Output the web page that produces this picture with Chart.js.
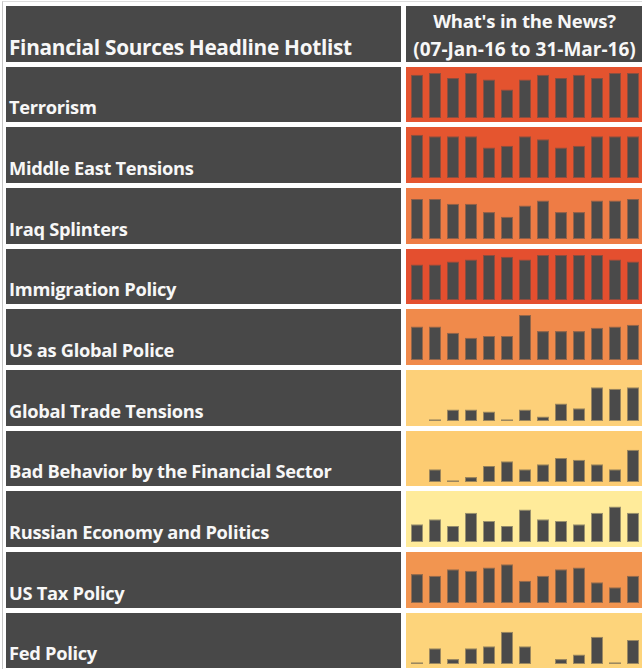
<!DOCTYPE html>
<html>
<head>
<meta charset="utf-8">
<script src="https://cdn.jsdelivr.net/npm/chart.js@4.4.1/dist/chart.umd.min.js"></script>
<style>
  html, body { margin: 0; padding: 0; background: #ffffff; }
  body { width: 642px; height: 669px; overflow: hidden; position: relative; font-family: 'Open Sans', sans-serif; font-weight: bold; }
  .frame { position: absolute; left: 2px; top: 1px; width: 700px; height: 700px; border-left: 1px solid #c6c6c6; border-top: 1px solid #dcdcdc; }
  .cell { position: absolute; background: #484848; color: #f7f7f7; overflow: hidden; white-space: nowrap; }
  .label { font-size: 18.3px; line-height: 20px; padding-left: 3px; box-sizing: border-box; display: flex; align-items: flex-end; padding-bottom: 5px; letter-spacing: -0.3px; }
  .title { font-size: 20.8px; }
  .hdr { position: absolute; left: 0; width: 100%; text-align: center; font-size: 18.5px; line-height: 18px; letter-spacing: -0.2px; }
  canvas { position: absolute; left: 0; top: 0; }
</style>
</head>
<body>
<div class="frame"></div>
<div class="cell label title" style="left:6px;top:6px;width:395px;height:56px;">Financial Sources Headline Hotlist</div>
<div class="cell" style="left:406px;top:6px;width:237px;height:56px;">
  <div class="hdr" style="top:6px;">What's in the News?</div>
  <div class="hdr" style="top:34px;font-size:19px;letter-spacing:0;">(07-Jan-16 to 31-Mar-16)</div>
</div>
<div id="rows"></div>
<script>
// week starting dates
const weeks = ['07-Jan', '14-Jan', '21-Jan', '28-Jan', '04-Feb', '11-Feb', '18-Feb', '25-Feb', '03-Mar', '10-Mar', '17-Mar', '24-Mar', '31-Mar'];

const topics = ['Terrorism', 'Middle East Tensions', 'Iraq Splinters', 'Immigration Policy', 'US as Global Police',
    'Global Trade Tensions', 'Bad Behavior by the Financial Sector', 'Russian Economy and Politics', 'US Tax Policy', 'Fed Policy'];

// headline volume per week (relative)
const terrorism    = [132, 137, 122, 137, 117, 87, 117, 132, 122, 132, 122, 137, 137];
const middleEast   = [132, 127, 127, 127, 93, 98, 127, 118, 93, 98, 127, 127, 127];
const iraq         = [122, 122, 107, 107, 82, 68, 102, 117, 82, 82, 117, 117, 122];
const immigration  = [108, 108, 117, 123, 137, 132, 123, 137, 137, 137, 137, 123, 117];
const globalPolice = [102, 102, 83, 68, 73, 73, 137, 88, 88, 88, 98, 102, 107];
const trade        = [0, 5, 35, 35, 29, 5, 35, 14, 53, 39, 103, 98, 103];
const badBehavior  = [0, 39, 5, 15, 49, 63, 39, 54, 73, 68, 54, 39, 98];
const russia       = [54, 69, 49, 89, 64, 49, 99, 69, 64, 54, 89, 108, 89];
const taxPolicy    = [88, 83, 103, 98, 108, 118, 68, 83, 103, 108, 63, 48, 83];
const fedPolicy    = [5, 48, 15, 48, 54, 98, 54, 0, 15, 29, 83, 5, 73];

const series = [terrorism, middleEast, iraq, immigration, globalPolice, trade, badBehavior, russia, taxPolicy, fedPolicy];

// heat colour of each row
const heatColors = ['#e4532f', '#e5552f', '#ee7c45', '#e44f2f', '#f08a4b', '#fdd079', '#fdcc72', '#ffeb9a', '#f29550', '#fdd47b'];

const barColor = '#4a4a4a';

function mix(hex, other, t) {
    const a = parseInt(hex.slice(1), 16), b = parseInt(other.slice(1), 16);
    const ch = s => Math.round(((a >> s) & 255) * (1 - t) + ((b >> s) & 255) * t);
    return `rgb(${ch(16)}, ${ch(8)}, ${ch(0)})`;
}

const rowsDiv = document.getElementById('rows');

topics.forEach((topic, i) => {
    const top = 66.7 + i * 60.67;

    const left = document.createElement('div');
    left.className = 'cell label';
    left.style.cssText = `left:6px;top:${top}px;width:395px;height:55.5px;`;
    left.textContent = topic;
    rowsDiv.appendChild(left);

    const right = document.createElement('div');
    right.className = 'cell';
    right.style.cssText = `left:406px;top:${top}px;width:237px;height:55.5px;background:${heatColors[i]};`;
    const canvas = document.createElement('canvas');
    canvas.width = 237;
    canvas.height = 56;
    right.appendChild(canvas);
    rowsDiv.appendChild(right);

    new Chart(canvas.getContext('2d'), {
        type: 'bar',
        data: {
            labels: weeks,
            datasets: [{
                label: topic,
                data: series[i],
                backgroundColor: barColor,
                borderColor: mix(barColor, heatColors[i], 0.45),
                borderWidth: 1,
                borderSkipped: false,
                barPercentage: 0.667,
                categoryPercentage: 1.0
            }]
        },
        options: {
            responsive: false,
            animation: false,
            layout: { padding: { left: 2, right: 1, top: 5, bottom: 5 } },
            scales: {
                x: { display: false, offset: true, grid: { display: false } },
                y: { display: false, min: 0, max: 140 }
            },
            plugins: {
                legend: { display: false },
                tooltip: { enabled: false }
            }
        }
    });
});
</script>
</body>
</html>
